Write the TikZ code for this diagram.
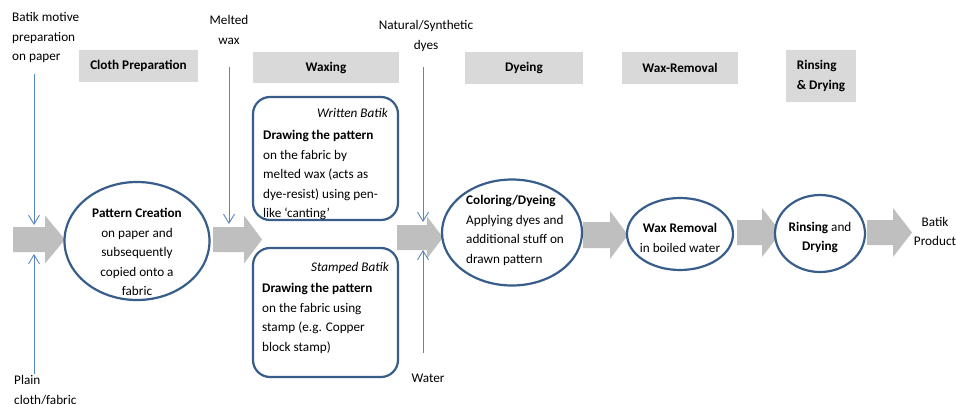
\documentclass[tikz,border=0pt]{standalone}
\usepackage{fontspec}
\setmainfont{Carlito}
\usetikzlibrary{arrows.meta,shapes.geometric}
\definecolor{stageblue}{HTML}{385D8A}
\definecolor{feedblue}{HTML}{5A86C0}
\definecolor{arrowgray}{HTML}{BFBFBF}
\definecolor{headgray}{HTML}{D9D9D9}

% block arrow: #1 tail x, #2 neck x, #3 tip x, #4 centre y, #5 half body, #6 half head
\newcommand\flowarrow[6]{%
  \fill[arrowgray] (#1,#4-#5) -- (#2,#4-#5) -- (#2,#4-#6) -- (#3,#4)
    -- (#2,#4+#6) -- (#2,#4+#5) -- (#1,#4+#5) -- cycle;}

\begin{document}
\begin{tikzpicture}[x=1pt,y=-1pt,
  every node/.style={inner sep=0pt, font=\fontsize{13.2}{19.5}\selectfont},
  header/.style={fill=headgray, font=\fontsize{13.2}{19.5}\selectfont\bfseries},
  stage/.style={ellipse, draw=stageblue, line width=2.2pt, fill=white},
  panel/.style={draw=stageblue, line width=2.2pt, rounded corners=17pt, fill=white},
  feed/.style={draw=feedblue, line width=0.9pt, -{Straight Barb[length=9pt,width=11pt]}},
  % multi-line texts: placed by the baseline of their first (strutted) line
  blocktop/.style={anchor=north, yshift=13.65pt, align=center},
  blockleft/.style={anchor=north west, yshift=13.65pt, align=left}]

\useasboundingbox (0,0) rectangle (956,404);

% stage headers
\node[header, minimum width=119pt, minimum height=32pt] (hcloth) at (138.5,66) {Cloth Preparation};
\node[header, minimum width=146pt, minimum height=31pt] (hwax) at (326,67.5) {Waxing};
\node[header, minimum width=118pt, minimum height=32pt] (hdye) at (524,68) {Dyeing};
\node[header, minimum width=116pt, minimum height=32pt] (hremove) at (680,68) {Wax-Removal};
\node[header, minimum width=70pt, minimum height=52pt, align=left] (hrinse) at (821,76) {Rinsing\\\& Drying};

% main flow arrows
\flowarrow{13}{45}{65}{239.5}{12.5}{24}
\flowarrow{213}{244}{262}{239.5}{12.5}{24}
\flowarrow{397}{427}{443}{237.5}{12.5}{21}
\flowarrow{583}{610}{628}{235}{13}{24}
\flowarrow{737}{762}{781}{232.5}{12.5}{24.5}
\flowarrow{867}{893}{912}{232.5}{12.5}{24.5}

% process stages
\node[stage, minimum width=145pt, minimum height=118pt] (pattern) at (137,241) {};
\node[blocktop] (patterntxt) at (137,217.5)
  {\strut\textbf{Pattern Creation}\\on paper and\\subsequently\\copied onto a\\fabric};

\node[panel, minimum width=145pt, minimum height=123pt] (written) at (325.5,158.5) {};
\node[anchor=base east] (writtentitle) at (388,117.5) {\itshape Written Batik};
\node[blockleft] (writtentxt) at (263,139.5)
  {\strut\textbf{Drawing the pattern}\\on the fabric by\\melted wax (acts as\\dye-resist) using pen-\\like ‘canting’};

\node[panel, minimum width=145pt, minimum height=129pt] (stamped) at (325.5,312.5) {};
\node[anchor=base east] (stampedtitle) at (389,271.5) {\itshape Stamped Batik};
\node[blockleft] (stampedtxt) at (262,292.5)
  {\strut\textbf{Drawing the pattern}\\on the fabric using\\stamp (e.g. Copper\\block stamp)};

\node[stage, minimum width=140pt, minimum height=106pt] (dyeing) at (512,232.5) {};
\node[blockleft] (dyeingtxt) at (466,204.5)
  {\strut\textbf{Coloring/Dyeing}\\Applying dyes and\\additional stuff on\\drawn pattern};

\node[stage, minimum width=106pt, minimum height=72pt] (removal) at (680,234) {};
\node[blocktop] (removaltxt) at (680,232.5)
  {\strut\textbf{Wax Removal}\\in boiled water};

\node[stage, minimum width=90pt, minimum height=77pt] (rinsing) at (820,233.5) {};
\node[blocktop, font=\fontsize{13.2}{18.5}\selectfont, yshift=-0.7pt] (rinsingtxt) at (820,231.5)
  {\strut\textbf{Rinsing} and\\\textbf{Drying}};

% inputs and output
\node[blockleft] (motive) at (12,21.5) {\strut Batik motive\\preparation\\on paper};
\node[blockleft] (plain) at (14,384.5) {\strut Plain\\cloth/fabric};
\node[blocktop] (meltedwax) at (229,24.5) {\strut Melted\\wax};
\node[blocktop] (dyes) at (426,29.5) {\strut Natural/Synthetic\\dyes};
\node[anchor=base] (water) at (428,382.5) {Water};
\node[blocktop, font=\fontsize{13.2}{18.5}\selectfont, yshift=-0.7pt] (product) at (935,226.5) {\strut Batik\\Product};

% feed lines
\coordinate (motiveend) at (34,74);
\coordinate (motivetip) at (34,225);
\coordinate (plainend) at (34,374);
\coordinate (plaintip) at (34,254);
\coordinate (waxend) at (229,67);
\coordinate (waxtip) at (229,224);
\coordinate (dyesend) at (423,67);
\coordinate (dyestip) at (423,222);
\coordinate (waterend) at (423,353);
\coordinate (watertip) at (423,250);
\draw[feed] (motiveend) -- (motivetip);
\draw[feed] (plainend) -- (plaintip);
\draw[feed] (waxend) -- (waxtip);
\draw[feed] (dyesend) -- (dyestip);
\draw[feed] (waterend) -- (watertip);
\end{tikzpicture}
\end{document}
